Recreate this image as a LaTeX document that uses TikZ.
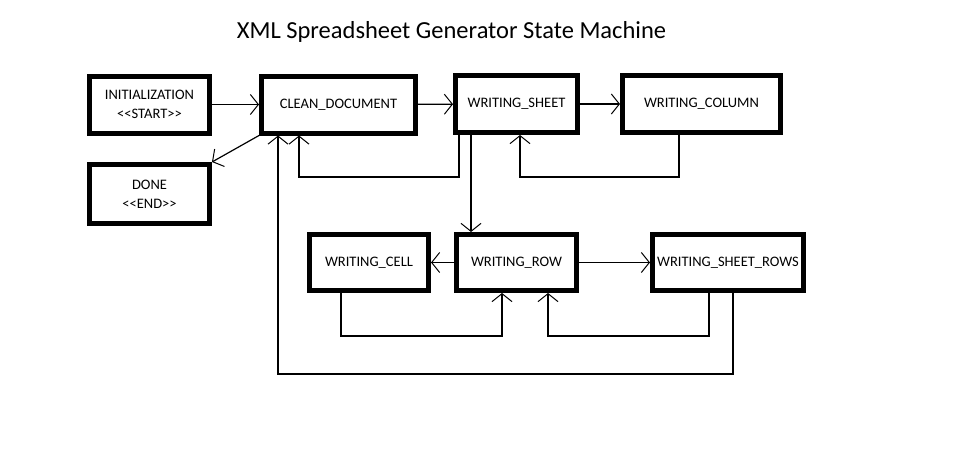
\documentclass[tikz,border=0pt]{standalone}
\usepackage{fontspec}
\setmainfont{Carlito}
\usetikzlibrary{arrows.meta}

\begin{document}
\begin{tikzpicture}[x=1pt,y=-1pt]
\tikzset{state/.style = {shape=rectangle,draw,line width=5pt,minimum height=57pt,align=center,font=\fontsize{14.5}{19}\selectfont}}
\tikzset{edge/.style = {line width=1.2pt,-{Straight Barb[length=8pt,width=20pt,line width=1pt]}}}
\useasboundingbox (0,0) rectangle (955,471);
\node (title) at (451.5,32) {\fontsize{24.5}{26}\selectfont XML Spreadsheet Generator State Machine};
%top row
\node[state,minimum width=120pt] (init) at (149.5,104.5) {INITIALIZATION\\<{}<START>{}>};
\node[state,minimum width=154pt] (clean) at (338.5,104.5) {CLEAN\_DOCUMENT};
\node[state,minimum width=122pt] (sheet) at (516.5,104) {WRITING\_SHEET};
\node[state,minimum width=158pt] (column) at (701.5,104) {WRITING\_COLUMN};
\node[state,minimum width=120pt,minimum height=59pt] (done) at (149.5,194) {DONE\\<{}<END>{}>};
%bottom row
\node[state,minimum width=119pt,minimum height=56pt] (cell) at (369,262.5) {WRITING\_CELL};
\node[state,minimum width=120pt,minimum height=56pt] (row) at (516.5,262.5) {WRITING\_ROW};
\node[state,minimum width=151pt,minimum height=56pt] (rows) at (728,262.5) {WRITING\_SHEET\_ROWS};
\draw[edge] (init) to (clean);
\draw[edge] (clean) to (sheet);
\draw[edge] (sheet) to (column);
\draw[edge] (clean.south west) to (done.north east);
\draw[edge] ([xshift=-45.5pt]sheet.south) to ([xshift=-45.5pt]row.north);
\draw[edge] (row) to (cell);
\draw[edge] (row) to (rows);
%loops back
\draw[edge] ([xshift=6pt]sheet.south west) -- ++(0,42) -| ([xshift=-39.5pt]clean.south);
\draw[edge] ([xshift=-22.5pt]column.south) -- ++(0,42) -| ([xshift=3.5pt]sheet.south);
\draw[edge] ([xshift=-28pt]cell.south) -- ++(0,43) -| ([xshift=-14.5pt]row.south);
\draw[edge] ([xshift=-19pt]rows.south) -- ++(0,43) -| ([xshift=31.5pt]row.south);
\draw[edge] ([xshift=5pt]rows.south) -- ++(0,81) -| ([xshift=-60.5pt]clean.south);
\end{tikzpicture}
\end{document}
